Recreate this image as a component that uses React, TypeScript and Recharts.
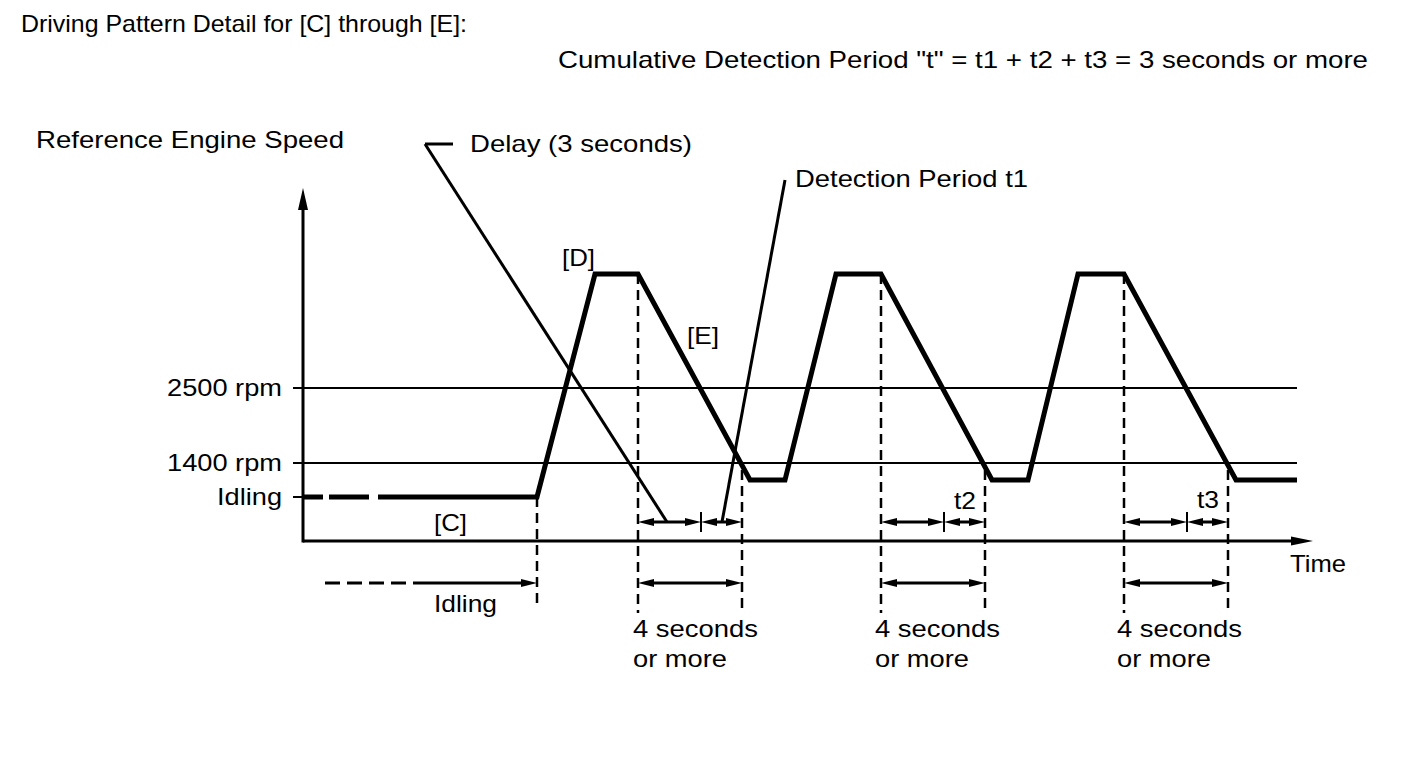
import React from 'react';
import { LineChart, Line, XAxis, YAxis, ReferenceLine, ReferenceDot } from 'recharts';

const FONT = '"Liberation Sans", Arial, Helvetica, sans-serif';
const INK = '#000';
const TEXT_SIZE = 24;

// time runs in arbitrary units, engine speed in arbitrary "level" units (diagram is not to scale)
const idleTime = [0, 75];
const idleLevel = [44, 44];

const traceTime = [75, 234, 292, 335, 447, 482, 533, 578, 689, 725, 775, 821, 933, 994];
const traceLevel = [44, 44, 267, 267, 61, 61, 267, 267, 61, 61, 267, 267, 61, 61];

const speedTicks = [44, 78, 153];
const speedTickLabels = ['Idling', '1400 rpm', '2500 rpm'];
const thresholdLevels = [78, 153];
const thresholdEnd = 994;

// dashed guide lines
const guideTime = [234, 335, 439, 578, 682, 821, 925];
const guideTop = [44, 267, 71, 267, 71, 267, 71];
const guideBottom = [-67, -72, -72, -72, -72, -72, -72];

// detection windows
const windowStart = [335, 578, 821];
const windowSplit = [398, 641, 884];
const windowEnd = [439, 682, 925];

const idleArrowDashed = [22, 110];
const idleArrowSolid = [110, 234];

const delayLeader = [
  { x: 150, y: 397 },
  { x: 122, y: 397 },
  { x: 364, y: 19 },
];
const detectionLeader = [
  { x: 482, y: 361 },
  { x: 419, y: 19 },
];

// in-chart annotations: text, left x, baseline y, rendered width
const notes: [string, number, number, number][] = [
  ['[D]', 259, 275, 33],
  ['[E]', 384, 197, 32],
  ['[C]', 131, 10, 33],
  ['t2', 651, 32, 22],
  ['t3', 894, 33, 22],
  ['Time', 987, -31, 56],
  ['Idling', 131, -71, 63],
  ['4 seconds', 330, -96, 125],
  ['or more', 330, -126, 94],
  ['4 seconds', 572, -96, 125],
  ['or more', 572, -126, 94],
  ['4 seconds', 814, -96, 125],
  ['or more', 814, -126, 94],
  ['Delay (3 seconds)', 167, 389, 222],
  ['Detection Period t1', 492, 354, 233],
];

const idleData = idleTime.map((t, i) => ({ t, v: idleLevel[i] }));
const traceData = traceTime.map((t, i) => ({ t, v: traceLevel[i] }));

function head(tx: number, ty: number, fx: number, fy: number, len: number, half: number) {
  const d = Math.hypot(tx - fx, ty - fy) || 1;
  const ux = (tx - fx) / d;
  const uy = (ty - fy) / d;
  const bx = tx - ux * len;
  const by = ty - uy * len;
  return `${tx},${ty} ${bx - uy * half},${by + ux * half} ${bx + uy * half},${by - ux * half}`;
}

function arrowShape(opts: { start?: boolean; end?: boolean; width: number; len?: number; half?: number; dash?: string }) {
  const { start = false, end = false, width, len = 16, half = 4, dash } = opts;
  return (p: any) => {
    const { x1, y1, x2, y2 } = p;
    const d = Math.hypot(x2 - x1, y2 - y1) || 1;
    const ux = (x2 - x1) / d;
    const uy = (y2 - y1) / d;
    const sx = start ? x1 + ux * (len - 2) : x1;
    const sy = start ? y1 + uy * (len - 2) : y1;
    const ex = end ? x2 - ux * (len - 2) : x2;
    const ey = end ? y2 - uy * (len - 2) : y2;
    return (
      <g>
        <line x1={sx} y1={sy} x2={ex} y2={ey} stroke={INK} strokeWidth={width} strokeDasharray={dash} />
        {start && <polygon points={head(x1, y1, x2, y2, len, half)} fill={INK} />}
        {end && <polygon points={head(x2, y2, x1, y1, len, half)} fill={INK} />}
      </g>
    );
  };
}

const textShape = (text: string, width: number) => (p: any) => (
  <text
    x={p.cx}
    y={p.cy}
    textLength={width}
    lengthAdjust="spacingAndGlyphs"
    fontFamily={FONT}
    fontSize={TEXT_SIZE}
    fill={INK}
  >
    {text}
  </text>
);

const SpeedTick = (props: any) => {
  const { x, y, payload } = props;
  const i = speedTicks.indexOf(payload.value);
  const label = speedTickLabels[i];
  const w = label === 'Idling' ? 65 : 115;
  return (
    <text
      x={x}
      y={y + 8}
      textAnchor="end"
      textLength={w}
      lengthAdjust="spacingAndGlyphs"
      fontFamily={FONT}
      fontSize={TEXT_SIZE}
      fill={INK}
    >
      {label}
    </text>
  );
};

const headers: [string, number, number, number][] = [
  ['Driving Pattern Detail for [C] through [E]:', 21, 32, 446],
  ['Cumulative Detection Period "t" = t1 + t2 + t3 = 3 seconds or more', 558, 68, 810],
  ['Reference Engine Speed', 36, 148, 308],
];

export default function App() {
  const thin = arrowShape({ width: 2 });
  const leader = arrowShape({ width: 3 });
  const dimArrow = arrowShape({ start: true, end: true, width: 3, len: 16, half: 4 });

  return (
    <div style={{ position: 'absolute', left: 0, top: 0, width: 1424, height: 759, background: '#fff' }}>
      <LineChart width={1424} height={759} margin={{ top: 188, right: 111, bottom: 218, left: 153 }}>
        <XAxis type="number" dataKey="t" domain={[0, 1010]} hide allowDataOverflow />
        <YAxis
          type="number"
          domain={[0, 353]}
          ticks={speedTicks}
          interval={0}
          width={150}
          axisLine={false}
          tickLine={{ stroke: INK, strokeWidth: 2 }}
          tickSize={10}
          tickMargin={11}
          tick={<SpeedTick />}
          allowDataOverflow
        />

        {thresholdLevels.map((lv) => (
          <ReferenceLine
            key={`th-${lv}`}
            segment={[{ x: 0, y: lv }, { x: thresholdEnd, y: lv }]}
            ifOverflow="visible"
            shape={thin}
          />
        ))}

        {/* axes with arrowheads */}
        <ReferenceLine
          segment={[{ x: 0, y: 0 }, { x: 1010, y: 0 }]}
          ifOverflow="visible"
          shape={arrowShape({ end: true, width: 3, len: 22, half: 4.5 })}
        />
        <ReferenceLine
          segment={[{ x: 0, y: -1.5 }, { x: 0, y: 353 }]}
          ifOverflow="visible"
          shape={arrowShape({ end: true, width: 3, len: 22, half: 5 })}
        />

        {guideTime.map((t, i) => (
          <ReferenceLine
            key={`g-${i}`}
            segment={[{ x: t, y: guideTop[i] }, { x: t, y: guideBottom[i] }]}
            ifOverflow="visible"
            shape={arrowShape({ width: 2.5, dash: '10 6' })}
          />
        ))}

        {windowStart.map((t, i) => (
          <React.Fragment key={`w-${i}`}>
            <ReferenceLine segment={[{ x: t, y: 19 }, { x: windowSplit[i], y: 19 }]} ifOverflow="visible" shape={dimArrow} />
            <ReferenceLine segment={[{ x: windowSplit[i], y: 19 }, { x: windowEnd[i], y: 19 }]} ifOverflow="visible" shape={dimArrow} />
            <ReferenceLine segment={[{ x: windowSplit[i], y: 29 }, { x: windowSplit[i], y: 9 }]} ifOverflow="visible" shape={thin} />
            <ReferenceLine segment={[{ x: t, y: -42 }, { x: windowEnd[i], y: -42 }]} ifOverflow="visible" shape={dimArrow} />
          </React.Fragment>
        ))}

        <ReferenceLine
          segment={[{ x: idleArrowDashed[0], y: -42 }, { x: idleArrowDashed[1], y: -42 }]}
          ifOverflow="visible"
          shape={arrowShape({ width: 3, dash: '15 7' })}
        />
        <ReferenceLine
          segment={[{ x: idleArrowSolid[0], y: -42 }, { x: idleArrowSolid[1], y: -42 }]}
          ifOverflow="visible"
          shape={arrowShape({ end: true, width: 3, len: 16, half: 4 })}
        />

        <ReferenceLine segment={[delayLeader[0], delayLeader[1]]} ifOverflow="visible" shape={leader} />
        <ReferenceLine segment={[delayLeader[1], delayLeader[2]]} ifOverflow="visible" shape={leader} />
        <ReferenceLine segment={[detectionLeader[0], detectionLeader[1]]} ifOverflow="visible" shape={leader} />

        <Line
          data={idleData}
          dataKey="v"
          type="linear"
          stroke={INK}
          strokeWidth={5}
          strokeDasharray="20 6 40 10"
          dot={false}
          activeDot={false}
          isAnimationActive={false}
        />
        <Line
          data={traceData}
          dataKey="v"
          type="linear"
          stroke={INK}
          strokeWidth={5}
          dot={false}
          activeDot={false}
          isAnimationActive={false}
        />

        {notes.map(([text, x, y, w], i) => (
          <ReferenceDot key={`n-${i}`} x={x} y={y} r={0} ifOverflow="visible" shape={textShape(text, w)} />
        ))}
      </LineChart>

      <svg width={1424} height={759} style={{ position: 'absolute', left: 0, top: 0, pointerEvents: 'none' }}>
        {headers.map(([text, x, y, w]) => (
          <text
            key={text}
            x={x}
            y={y}
            textLength={w}
            lengthAdjust="spacingAndGlyphs"
            fontFamily={FONT}
            fontSize={TEXT_SIZE}
            fill={INK}
          >
            {text}
          </text>
        ))}
      </svg>
    </div>
  );
}
